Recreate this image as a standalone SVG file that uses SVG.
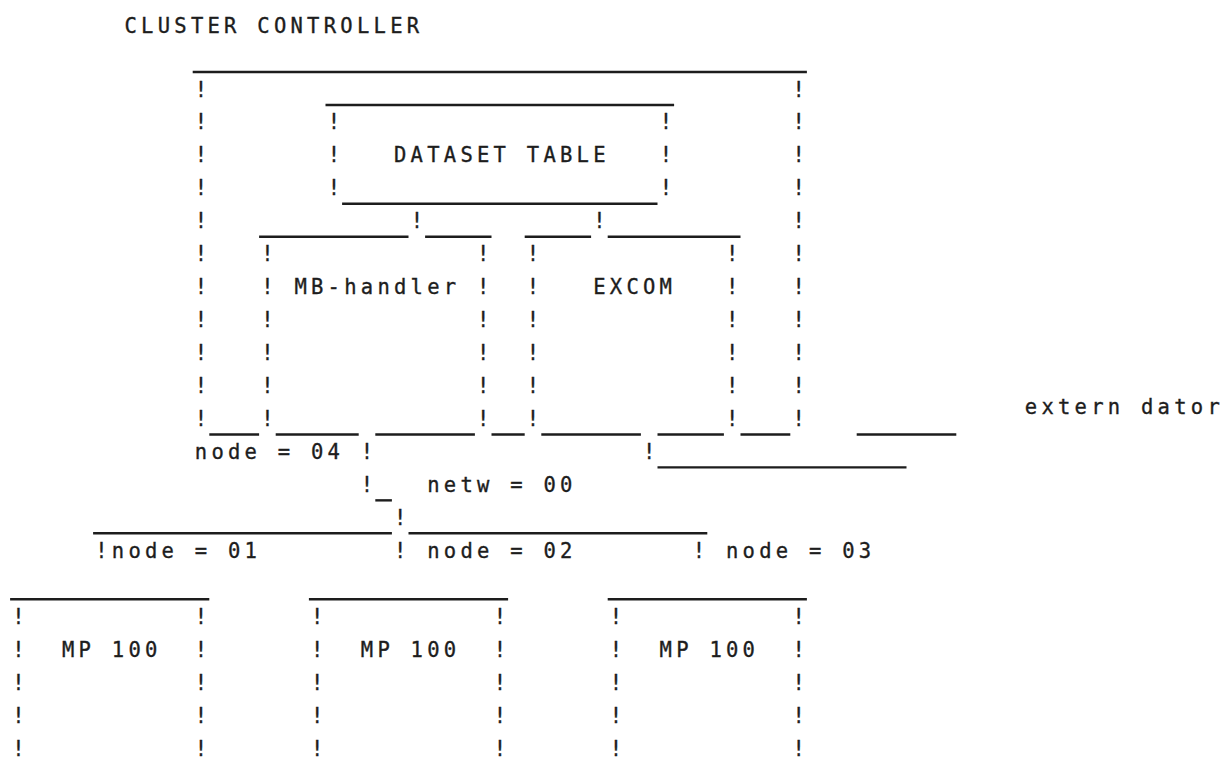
<svg xmlns="http://www.w3.org/2000/svg" width="1228" height="760" viewBox="0 0 1228 760">
  <style>
    .t { font-family: "DejaVu Sans Mono", "Liberation Mono", monospace; font-size: 20.5px; fill: #1d1d1d; stroke: #1d1d1d; stroke-width: 0.35px; letter-spacing: 4.26px; }
    .m { text-anchor: middle; letter-spacing: 0; }
    .u { stroke: #1d1d1d; stroke-width: 2.4; fill: none; }
  </style>
  <rect width="1228" height="760" fill="#ffffff"/>

  <!-- typewriter grid: column pitch 16.6px (col 0 at x=201), row pitch 32.95px -->

  <g id="cluster-controller">
    <text class="t" x="124.5" y="33">CLUSTER CONTROLLER</text>
    <line class="u" x1="192.7" y1="72" x2="806.9" y2="72"/>
    <text class="t m" x="201 201 201 201 201 201 201 201 201 201 201" y="96.5 129.4 162.4 195.3 228.3 261.2 294.2 327.1 360.1 393 426">!!!!!!!!!!!</text>
    <text class="t m" x="798.6 798.6 798.6 798.6 798.6 798.6 798.6 798.6 798.6 798.6 798.6" y="96.5 129.4 162.4 195.3 228.3 261.2 294.2 327.1 360.1 393 426">!!!!!!!!!!!</text>
    <line class="u" x1="209.3" y1="434.45" x2="259.1" y2="434.45"/>
    <line class="u" x1="491.5" y1="434.45" x2="524.7" y2="434.45"/>
    <line class="u" x1="740.5" y1="434.45" x2="790.3" y2="434.45"/>
  </g>

  <g id="dataset-table">
    <line class="u" x1="325.5" y1="104.95" x2="674.1" y2="104.95"/>
    <text class="t m" x="333.8 333.8 333.8" y="129.4 162.4 195.3">!!!</text>
    <text class="t m" x="665.8 665.8 665.8" y="129.4 162.4 195.3">!!!</text>
    <text class="t" x="394" y="162.4">DATASET TABLE</text>
    <line class="u" x1="342.1" y1="203.8" x2="657.5" y2="203.8"/>
  </g>

  <g id="mb-handler">
    <line class="u" x1="259.1" y1="236.75" x2="408.5" y2="236.75"/>
    <line class="u" x1="425.1" y1="236.75" x2="491.5" y2="236.75"/>
    <text class="t m" x="267.4 267.4 267.4 267.4 267.4 267.4" y="261.2 294.2 327.1 360.1 393 426">!!!!!!</text>
    <text class="t m" x="483.2 483.2 483.2 483.2 483.2 483.2" y="261.2 294.2 327.1 360.1 393 426">!!!!!!</text>
    <text class="t" x="294.4" y="294.2">MB-handler</text>
    <line class="u" x1="275.7" y1="434.45" x2="358.7" y2="434.45"/>
    <line class="u" x1="375.3" y1="434.45" x2="474.9" y2="434.45"/>
  </g>

  <g id="excom">
    <line class="u" x1="524.7" y1="236.75" x2="591.1" y2="236.75"/>
    <line class="u" x1="607.7" y1="236.75" x2="740.5" y2="236.75"/>
    <text class="t m" x="533 533 533 533 533 533" y="261.2 294.2 327.1 360.1 393 426">!!!!!!</text>
    <text class="t m" x="732.2 732.2 732.2 732.2 732.2 732.2" y="261.2 294.2 327.1 360.1 393 426">!!!!!!</text>
    <text class="t" x="593.2" y="294.2">EXCOM</text>
    <line class="u" x1="541.3" y1="434.45" x2="640.9" y2="434.45"/>
    <line class="u" x1="657.5" y1="434.45" x2="723.9" y2="434.45"/>
  </g>

  <g id="extern-dator">
    <text class="t" x="1024.8" y="414">extern dator</text>
  </g>

  <g id="mp100-1">
    <line class="u" x1="10.1" y1="599.2" x2="209.3" y2="599.2"/>
    <text class="t m" x="18.4 18.4 18.4 18.4 18.4" y="623.7 656.6 689.6 722.5 755.5">!!!!!</text>
    <text class="t m" x="201 201 201 201 201" y="623.7 656.6 689.6 722.5 755.5">!!!!!</text>
    <text class="t" x="62" y="656.6">MP 100</text>
  </g>

  <g id="mp100-2">
    <line class="u" x1="308.9" y1="599.2" x2="508.1" y2="599.2"/>
    <text class="t m" x="317.2 317.2 317.2 317.2 317.2" y="623.7 656.6 689.6 722.5 755.5">!!!!!</text>
    <text class="t m" x="499.8 499.8 499.8 499.8 499.8" y="623.7 656.6 689.6 722.5 755.5">!!!!!</text>
    <text class="t" x="360.8" y="656.6">MP 100</text>
  </g>

  <g id="mp100-3">
    <line class="u" x1="607.7" y1="599.2" x2="806.9" y2="599.2"/>
    <text class="t m" x="616 616 616 616 616" y="623.7 656.6 689.6 722.5 755.5">!!!!!</text>
    <text class="t m" x="798.6 798.6 798.6 798.6 798.6" y="623.7 656.6 689.6 722.5 755.5">!!!!!</text>
    <text class="t" x="659.6" y="656.6">MP 100</text>
  </g>

  <g id="connectors">
    <!-- dataset table down to both handlers -->
    <text class="t m" x="416.8 599.4" y="228.3">!!</text>
    <!-- cluster controller to the network -->
    <text class="t" x="194.8" y="458.9">node = 04 !</text>
    <text class="t m" x="367" y="491.9">!</text>
    <line class="u" x1="375.3" y1="500.35" x2="391.9" y2="500.35"/>
    <text class="t" x="427.2" y="491.9">netw = 00</text>
    <!-- network bus and its three drops -->
    <text class="t m" x="400.2" y="524.8">!</text>
    <line class="u" x1="93.1" y1="533.3" x2="391.9" y2="533.3"/>
    <line class="u" x1="408.5" y1="533.3" x2="707.3" y2="533.3"/>
    <text class="t" x="95.2" y="557.8">!node = 01</text>
    <text class="t" x="394" y="557.8">! node = 02</text>
    <text class="t" x="692.8" y="557.8">! node = 03</text>
    <!-- EXCOM out to the external computer -->
    <text class="t m" x="649.2" y="458.9">!</text>
    <line class="u" x1="657.5" y1="467.4" x2="906.5" y2="467.4"/>
    <line class="u" x1="856.7" y1="434.45" x2="956.3" y2="434.45"/>
  </g>
</svg>
